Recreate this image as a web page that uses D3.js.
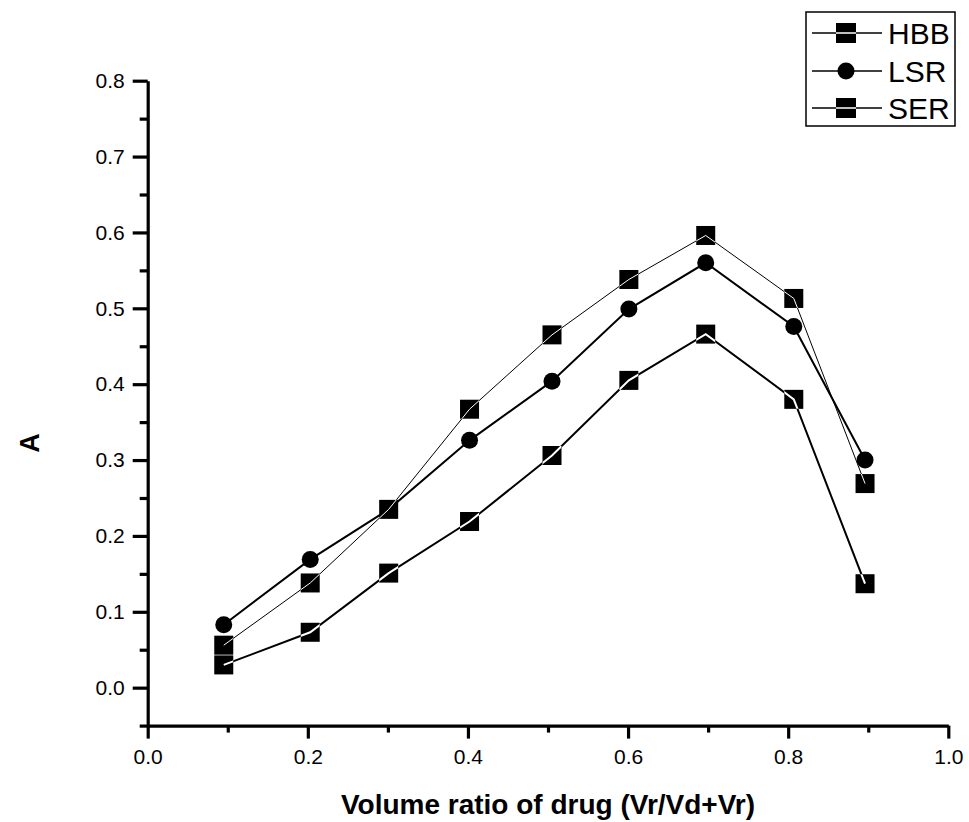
<!DOCTYPE html>
<html>
<head>
<meta charset="utf-8">
<script src="https://cdn.jsdelivr.net/npm/d3@7"></script>
<style>
  html, body { margin: 0; padding: 0; background: #fff; }
  svg { display: block; }
  text { font-family: Arial, "Liberation Sans", sans-serif; fill: #000; }
  .tick text { font-size: 21px; }
</style>
</head>
<body>
<svg id="chart" width="969" height="822"></svg>
<script>
// ---- data ----
const xValues = [0.095, 0.203, 0.301, 0.402, 0.505, 0.601, 0.697, 0.807, 0.896];
const hbbValues = [0.030, 0.073, 0.151, 0.219, 0.306, 0.405, 0.466, 0.380, 0.137];
const lsrValues = [0.083, 0.169, 0.235, 0.326, 0.404, 0.499, 0.560, 0.476, 0.300];
const serValues = [0.056, 0.138, 0.235, 0.367, 0.465, 0.538, 0.596, 0.513, 0.269];
const seriesNames = ["HBB", "LSR", "SER"];
const xTickValues = [0.0, 0.2, 0.4, 0.6, 0.8, 1.0];
const yTickValues = [0.0, 0.1, 0.2, 0.3, 0.4, 0.5, 0.6, 0.7, 0.8];
const xTitle = "Volume ratio of drug (Vr/Vd+Vr)";
const yTitle = "A";

const series = [
  { name: seriesNames[0], values: hbbValues, shape: "square", width: 2 },
  { name: seriesNames[1], values: lsrValues, shape: "circle", width: 2 },
  { name: seriesNames[2], values: serValues, shape: "square", width: 1 }
];

const svg = d3.select("#chart");
const x = d3.scaleLinear().domain([0, 1]).range([147.7, 948.3]);
const y = d3.scaleLinear().domain([-0.05, 0.8]).range([725.6, 80.7]);
const axisX0 = x(0), axisY0 = y(-0.05);

// ---- axes ----
const xMinor = d3.range(0.1, 1.0, 0.2);
const yMinor = d3.range(-0.05, 0.8, 0.1);

const gx = svg.append("g").attr("transform", `translate(0,${axisY0})`);
gx.call(d3.axisBottom(x).tickValues(xTickValues).tickFormat(d3.format(".1f")).tickSize(13).tickPadding(10).tickSizeOuter(0));
gx.append("g").call(d3.axisBottom(x).tickValues(xMinor).tickFormat("").tickSize(7).tickSizeOuter(0))
  .select(".domain").remove();
const gy = svg.append("g").attr("transform", `translate(${axisX0},0)`);
gy.call(d3.axisLeft(y).tickValues(yTickValues).tickFormat(d3.format(".1f")).tickSize(15).tickPadding(8).tickSizeOuter(0));
gy.append("g").call(d3.axisLeft(y).tickValues(yMinor).tickFormat("").tickSize(8).tickSizeOuter(0))
  .select(".domain").remove();

svg.selectAll(".domain").attr("stroke", "#000").attr("stroke-width", 3.2);
svg.selectAll(".tick line").attr("stroke", "#000").attr("stroke-width", 3.2);
svg.selectAll(".tick text").attr("fill", "#000");

// ---- titles ----
svg.append("text").attr("x", 548).attr("y", 814).attr("text-anchor", "middle")
  .attr("font-size", 28).attr("font-weight", "bold").text(xTitle);
svg.append("text").attr("transform", "translate(39,443) rotate(-90)").attr("text-anchor", "middle")
  .attr("font-size", 27).attr("font-weight", "bold").text(yTitle);

// ---- series ----
const line = d3.line().x((d, i) => x(xValues[i])).y(d => y(d));
const SQ = 19, R = 8.5;

series.forEach((s, si) => {
  const g = svg.append("g");
  g.append("path").datum(s.values).attr("d", line).attr("fill", "none")
    .attr("stroke", "#000").attr("stroke-width", s.width);
  if (s.shape === "square") {
    g.selectAll("rect").data(s.values).join("rect")
      .attr("x", (d, i) => x(xValues[i]) - SQ / 2).attr("y", d => y(d) - SQ / 2)
      .attr("width", SQ).attr("height", SQ).attr("fill", "#000");
    const clipId = "clip" + si;
    svg.append("clipPath").attr("id", clipId).selectAll("rect").data(s.values).join("rect")
      .attr("x", (d, i) => x(xValues[i]) - SQ / 2).attr("y", d => y(d) - SQ / 2)
      .attr("width", SQ).attr("height", SQ);
    g.append("path").datum(s.values).attr("d", line).attr("fill", "none")
      .attr("stroke", "#fff").attr("stroke-width", s.width).attr("clip-path", `url(#${clipId})`);
  } else {
    g.selectAll("circle").data(s.values).join("circle")
      .attr("cx", (d, i) => x(xValues[i])).attr("cy", d => y(d)).attr("r", R).attr("fill", "#000");
  }
});

// ---- legend ----
const lg = svg.append("g");
lg.append("rect").attr("x", 806).attr("y", 12).attr("width", 149).attr("height", 114)
  .attr("fill", "#fff").attr("stroke", "#000").attr("stroke-width", 1.5);
const rowY = [33, 71, 108];
series.forEach((s, i) => {
  const cy = rowY[i];
  lg.append("line").attr("x1", 812).attr("x2", 882).attr("y1", cy).attr("y2", cy)
    .attr("stroke", "#000").attr("stroke-width", 1.5);
  if (s.shape === "square") {
    lg.append("rect").attr("x", 836).attr("y", cy - 10).attr("width", 20).attr("height", 20).attr("fill", "#000");
    lg.append("line").attr("x1", 836).attr("x2", 856).attr("y1", cy).attr("y2", cy)
      .attr("stroke", "#fff").attr("stroke-width", 1.5);
  } else {
    lg.append("circle").attr("cx", 846).attr("cy", cy).attr("r", 8.5).attr("fill", "#000");
  }
  lg.append("text").attr("x", 888).attr("y", cy + 11).attr("font-size", 30).text(s.name);
});
</script>
</body>
</html>
